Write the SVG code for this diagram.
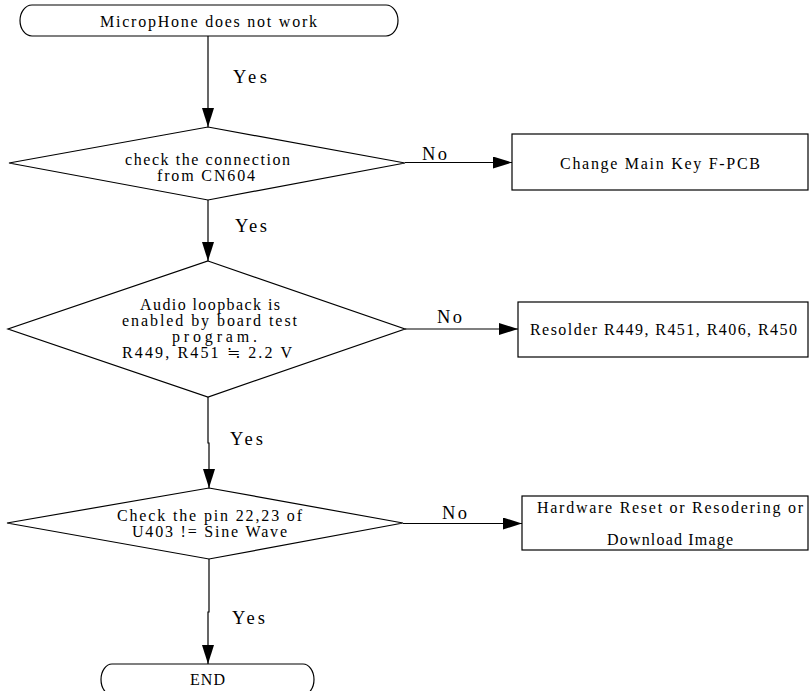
<svg xmlns="http://www.w3.org/2000/svg" width="809" height="691" viewBox="0 0 809 691">
<style>
.s{fill:#fff;stroke:#000;stroke-width:1.2}
.c{fill:none;stroke:#000;stroke-width:1.2}
text{font-family:"Liberation Serif","Noto Sans CJK KR",serif;font-size:16px;fill:#000}
.l{font-size:18.5px}
</style>
<defs>
<marker id="ah" markerUnits="userSpaceOnUse" markerWidth="20" markerHeight="12" refX="19" refY="6" orient="auto" viewBox="0 0 20 12">
<path d="M0,0 L19,6 L0,12 z" fill="#000"/>
</marker>
</defs>
<rect width="809" height="691" fill="#fff"/>
<g id="start">
<path class="s" d="M32,5 H386 A12,15.5 0 0 1 386,36 H32 A12,15.5 0 0 1 32,5 Z"/>
<text x="100" y="27" textLength="217" lengthAdjust="spacing">MicropHone does not work</text>
</g>
<g id="d1">
<polygon class="s" points="208,127 405,163 208,200 9,163"/>
<text x="125" y="165" textLength="165" lengthAdjust="spacing">check the connection</text>
<text x="157" y="181" textLength="98" lengthAdjust="spacing">from CN604</text>
</g>
<g id="b1">
<rect class="s" x="512" y="134" width="296" height="56"/>
<text x="560" y="169" textLength="200" lengthAdjust="spacing">Change Main Key F-PCB</text>
</g>
<g id="d2">
<polygon class="s" points="208,261 405,329 208,397 8,329"/>
<text x="140" y="310" textLength="140" lengthAdjust="spacing">Audio loopback is</text>
<text x="122" y="326" textLength="175" lengthAdjust="spacing">enabled by board test</text>
<text x="172" y="342" textLength="85" lengthAdjust="spacing">program.</text>
<text x="122" y="358" textLength="170" lengthAdjust="spacing">R449, R451 ≒ 2.2 V</text>
</g>
<g id="b2">
<rect class="s" x="518" y="302" width="290" height="55"/>
<text x="530" y="335" textLength="267" lengthAdjust="spacing">Resolder R449, R451, R406, R450</text>
</g>
<g id="d3">
<polygon class="s" points="209,488 403,523 209,559 7,523"/>
<text x="117" y="521" textLength="185" lengthAdjust="spacing">Check the pin 22,23 of</text>
<text x="132" y="537" textLength="155" lengthAdjust="spacing">U403 != Sine Wave</text>
</g>
<g id="b3">
<rect class="s" x="522" y="496" width="286" height="54"/>
<text x="537" y="513" textLength="266" lengthAdjust="spacing">Hardware Reset or Resodering or</text>
<text x="607" y="545" textLength="126" lengthAdjust="spacing">Download Image</text>
</g>
<g id="end">
<path class="s" d="M112,664 H303 A11,15.5 0 0 1 303,695 H112 A11,15.5 0 0 1 112,664 Z"/>
<text x="190" y="685" textLength="35" lengthAdjust="spacing">END</text>
</g>
<g id="connectors">
<path class="c" d="M208,36 V127" marker-end="url(#ah)"/>
<path class="c" d="M405,162.5 H512" marker-end="url(#ah)"/>
<path class="c" d="M208,200 V261" marker-end="url(#ah)"/>
<path class="c" d="M405,329 H518" marker-end="url(#ah)"/>
<path class="c" d="M208,397 V443 H209 V488" marker-end="url(#ah)"/>
<path class="c" d="M403,523.5 H522" marker-end="url(#ah)"/>
<path class="c" d="M209,559 V612 H208 V664" marker-end="url(#ah)"/>
<text class="l" x="233" y="83" textLength="34" lengthAdjust="spacing">Yes</text>
<text class="l" x="422" y="160" textLength="25" lengthAdjust="spacing">No</text>
<text class="l" x="235" y="232" textLength="32" lengthAdjust="spacing">Yes</text>
<text class="l" x="437" y="323" textLength="25" lengthAdjust="spacing">No</text>
<text class="l" x="230" y="445" textLength="33" lengthAdjust="spacing">Yes</text>
<text class="l" x="442" y="519" textLength="25" lengthAdjust="spacing">No</text>
<text class="l" x="232" y="624" textLength="33" lengthAdjust="spacing">Yes</text>
</g>
</svg>
